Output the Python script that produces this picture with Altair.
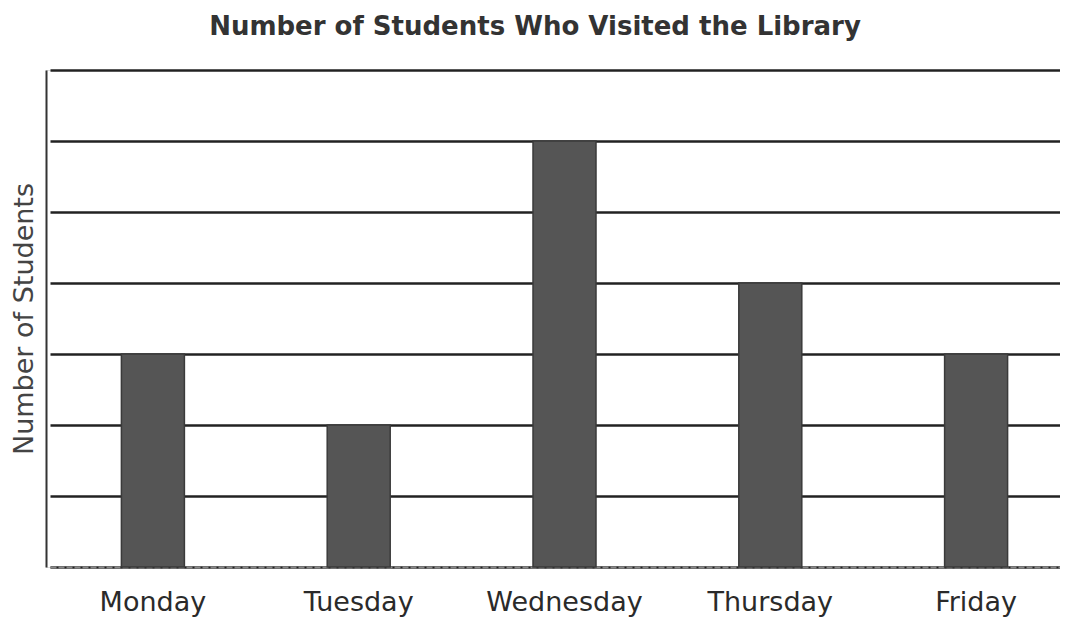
import altair as alt
import pandas as pd

days = ["Monday", "Tuesday", "Wednesday", "Thursday", "Friday"]
students = [3, 2, 6, 4, 3]
y_ticks = [0, 1, 2, 3, 4, 5, 6, 7]

df = pd.DataFrame({"day": days, "students": students})

FONT = "DejaVu Sans"

chart = alt.Chart(df).mark_bar(
    size=63, color="#555555", stroke="#3a3a3a", strokeWidth=1.5
).encode(
    x=alt.X(
        "day:N",
        sort=days,
        scale=alt.Scale(range=[4, 1033], paddingInner=0, paddingOuter=0),
        axis=alt.Axis(
            title=None, labelAngle=0, labelFontSize=27, labelFont=FONT,
            labelColor="#2a2a2a", labelPadding=22, ticks=False,
            domain=True, domainColor="#8a8a8a", domainWidth=2, domainDash=[6, 2],
            grid=False,
        ),
    ),
    y=alt.Y(
        "students:Q",
        scale=alt.Scale(domain=[0, 7], nice=False),
        axis=alt.Axis(
            title="Number of Students", titleFont=FONT, titleFontSize=27,
            titleFontWeight="normal", titleColor="#444444", titlePadding=8,
            labels=False, ticks=False, values=y_ticks,
            domain=True, domainColor="#333333", domainWidth=2,
            grid=True, gridColor="#222222", gridWidth=2.5, gridOpacity=1,
        ),
    ),
).properties(
    width=1014,
    height=497,
    title=alt.TitleParams(
        "Number of Students Who Visited the Library",
        font=FONT, fontSize=26, fontWeight="bold", color="#333333",
        anchor="middle", dx=-18, offset=30,
    ),
    autosize=alt.AutoSizeParams(type="none"),
    padding={"left": 38, "top": 62, "right": 0, "bottom": 50},
).configure_view(
    stroke=None
).configure(
    background="white"
)

chart.save("out.html", embed_options={"renderer": "svg", "actions": False})
